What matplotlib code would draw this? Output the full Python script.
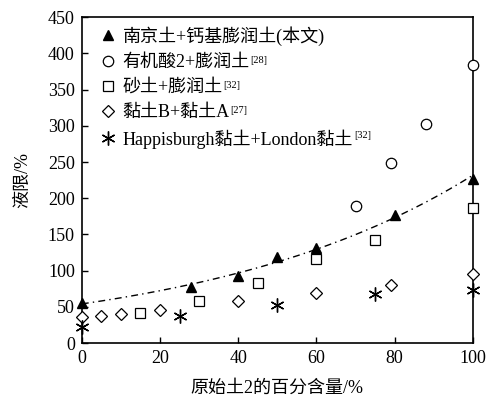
import numpy as np
import matplotlib.pyplot as plt

plt.rcParams['font.family'] = ['Liberation Serif', 'Noto Sans CJK SC']

# data
x_nj = [0, 28, 40, 50, 60, 80, 100]
y_nj = [55, 78, 93, 119, 131, 177, 226]

x_org = [70, 79, 88, 100]
y_org = [190, 249, 302, 384]

x_sand = [15, 30, 45, 60, 75, 100]
y_sand = [41, 58, 83, 116, 143, 187]

x_clay = [0, 5, 10, 20, 40, 60, 79, 100]
y_clay = [36, 37, 40, 46, 58, 69, 80, 95]

x_hap = [0, 25, 50, 75, 100]
y_hap = [22, 37, 53, 68, 74]

labels = ['南京土+钙基膨润土(本文)', '有机酸2+膨润土', '砂土+膨润土',
          '黏土B+黏土A', 'Happisburgh黏土+London黏土']
refs = ['', '[28]', '[32]', '[27]', '[32]']

fig = plt.figure(figsize=(4.87, 3.99), dpi=100)
ax = fig.add_axes([0.168, 0.140, 0.803, 0.817])

ms = 7.5
ax.plot(x_nj, y_nj, '^', color='k', ms=ms, label=labels[0], clip_on=False, zorder=5)
ax.plot(x_org, y_org, 'o', mfc='white', mec='k', ms=ms, mew=0.9, label=labels[1], clip_on=False, zorder=5)
ax.plot(x_sand, y_sand, 's', mfc='white', mec='k', ms=ms, mew=0.9, label=labels[2], clip_on=False, zorder=5)
ax.plot(x_clay, y_clay, 'D', mfc='white', mec='k', ms=6.5, mew=0.9, label=labels[3], clip_on=False, zorder=5)
ax.plot(x_hap, y_hap, marker=(6, 2, 0), ls='none', color='k', ms=10, mew=1.0, label=labels[4], clip_on=False, zorder=5)

# exponential trend of the main series
b, lna = np.polyfit(x_nj, np.log(y_nj), 1)
xf = np.linspace(0, 100, 200)
ax.plot(xf, np.exp(lna) * np.exp(b * xf), color='k', ls=(0, (5, 3, 1, 3)), lw=1.0)

ax.set_xlim(0, 100)
ax.set_ylim(0, 450)
ax.set_xticks(range(0, 101, 20))
ax.set_yticks(range(0, 451, 50))
ax.tick_params(direction='in', labelsize=13, length=4, width=1, pad=5)
for s in ax.spines.values():
    s.set_linewidth(1.2)

ax.set_xlabel('原始土2的百分含量/%', fontsize=13, labelpad=9)
ax.set_ylabel('液限/%', fontsize=13, labelpad=12)

leg = ax.legend(loc='upper left', frameon=False, fontsize=13, handlelength=0.6,
                handletextpad=0.5, labelspacing=0.45, borderaxespad=0.1,
                bbox_to_anchor=(0.03, 1.0))

# superscript references after legend labels
fig.canvas.draw()
inv = fig.transFigure.inverted()
for t, r in zip(leg.get_texts(), refs):
    if not r:
        continue
    bb = t.get_window_extent()
    x1, y1 = inv.transform((bb.x1 + 1, bb.y1 - 2))
    fig.text(x1, y1, r, fontsize=7.5, va='top', ha='left')

fig.savefig('out.png', dpi=100)
